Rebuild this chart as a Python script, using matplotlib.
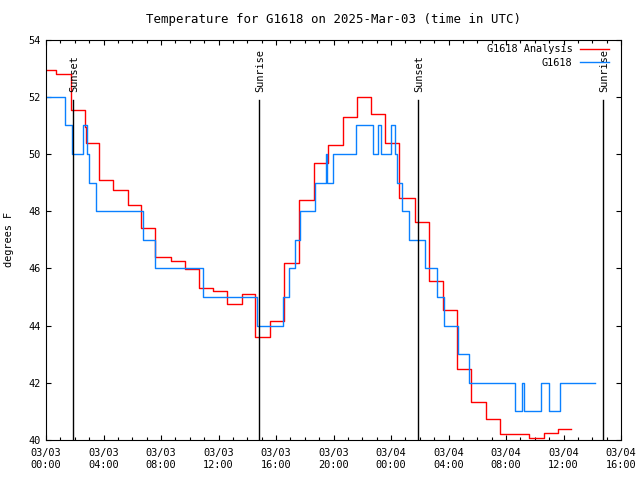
import matplotlib
matplotlib.use("Agg")
import matplotlib.pyplot as plt
from matplotlib.ticker import MultipleLocator

plt.rcParams['font.family'] = ['DejaVu Sans Mono']
plt.rcParams['font.size'] = 7.4

title = "Temperature for G1618 on 2025-Mar-03 (time in UTC)"
ylabel = "degrees F"

# hours since 2025-03-03 00:00 UTC
analysis_t = [0.0, 0.69, 1.73, 2.71, 2.78, 3.66, 4.63, 5.67, 6.59, 7.58, 8.67, 9.67,
              10.64, 11.61, 12.61, 13.60, 14.52, 15.58, 16.54, 17.58, 18.62, 19.64,
              20.66, 21.60, 22.60, 23.57, 24.57, 25.66, 26.63, 27.62, 28.61, 29.54,
              30.58, 31.58, 33.59, 34.63, 35.62, 36.55]
analysis_v = [52.92, 52.80, 51.53, 50.95, 50.37, 49.08, 48.73, 48.21, 47.42, 46.39, 46.26, 45.97,
              45.30, 45.22, 44.75, 45.10, 43.59, 44.17, 46.18, 48.39, 49.68, 50.31,
              51.28, 52.00, 51.40, 50.37, 48.47, 47.63, 45.56, 44.55, 42.47, 41.33,
              40.72, 40.20, 40.08, 40.24, 40.37, 40.37]

obs_t = [0.0, 1.32, 1.78, 2.55, 2.87, 3.00, 3.47, 6.75, 7.56, 10.92, 14.66, 16.47, 16.88,
         17.33, 17.68, 18.69, 19.48, 19.55, 19.99, 21.56, 22.76, 23.11, 23.32, 23.99,
         24.25, 24.45, 24.75, 25.26, 26.35, 27.18, 27.71, 28.68, 29.40, 32.60, 33.08,
         33.22, 34.40, 35.02, 35.79, 38.17]
obs_v = [52, 51, 50, 51, 50, 49, 48, 47, 46, 45, 44, 45, 46,
         47, 48, 49, 50, 49, 50, 51, 50, 51, 50, 51,
         50, 49, 48, 47, 46, 45, 44, 43, 42, 41, 42,
         41, 42, 41, 42, 42]

sun_t = [1.895, 14.80, 25.91, 38.74]
sun_labels = ["Sunset", "Sunrise", "Sunset", "Sunrise"]

xtick_hours = [0, 4, 8, 12, 16, 20, 24, 28, 32, 36, 40]
xtick_labels = ["03/03\n00:00", "03/03\n04:00", "03/03\n08:00", "03/03\n12:00",
                "03/03\n16:00", "03/03\n20:00", "03/04\n00:00", "03/04\n04:00",
                "03/04\n08:00", "03/04\n12:00", "03/04\n16:00"]
ytick_vals = [40, 42, 44, 46, 48, 50, 52, 54]

fig = plt.figure(figsize=(6.4, 4.8), dpi=100)
ax = fig.add_axes([46/640, 1-440/480, 575/640, 400.5/480])

ax.step(analysis_t, analysis_v, where='post', color='#ff0000', lw=1.0, label='G1618 Analysis')
ax.step(obs_t, obs_v, where='post', color='#0a80ff', lw=1.0, label='G1618')

for t, lab in zip(sun_t, sun_labels):
    ax.plot([t, t], [0, 0.85], transform=ax.get_xaxis_transform(), color='black', lw=1.0)
    ax.text(t + 0.08, 0.868, lab, transform=ax.get_xaxis_transform(), rotation=90,
            ha='center', va='bottom')

ax.set_xlim(0, 40)
ax.set_ylim(40, 54)
ax.set_xticks(xtick_hours)
ax.set_xticklabels(xtick_labels, linespacing=1.25)
ax.xaxis.set_minor_locator(MultipleLocator(1))
ax.set_yticks(ytick_vals)
ax.tick_params(which='both', direction='in', top=True, right=True, width=0.8)
ax.tick_params(which='major', length=3.6)
ax.tick_params(axis='x', which='major', pad=6)
ax.tick_params(axis='y', which='major', pad=4)
ax.tick_params(which='minor', length=2)
for s in ax.spines.values():
    s.set_linewidth(0.8)

ax.set_title(title, pad=12)
ax.set_ylabel(ylabel, labelpad=10)

leg = ax.legend(loc='upper right', bbox_to_anchor=(0.979, 0.988), frameon=False,
                markerfirst=False, borderpad=0, borderaxespad=0, handlelength=2.85,
                handletextpad=0.7, labelspacing=0.35)

fig.savefig('out.png', dpi=100)
